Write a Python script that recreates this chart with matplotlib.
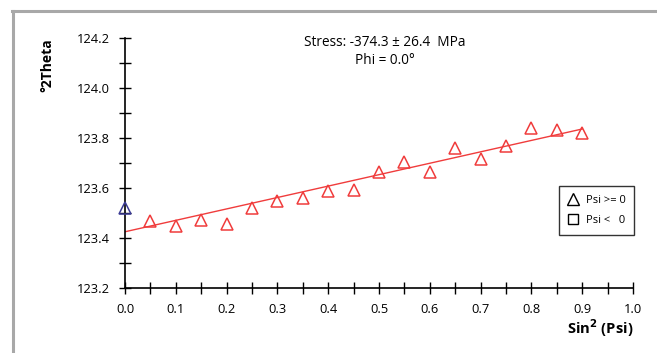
import matplotlib.pyplot as plt
from matplotlib.lines import Line2D
from matplotlib.ticker import MultipleLocator
import numpy as np

plt.rcParams['font.family'] = ['Open Sans', 'DejaVu Sans']

# Data
sin2psi = [0.05, 0.1, 0.15, 0.2, 0.25, 0.3, 0.35, 0.4, 0.45, 0.5,
           0.55, 0.6, 0.65, 0.7, 0.75, 0.8, 0.85, 0.9]
two_theta = [123.468, 123.448, 123.472, 123.456, 123.52, 123.548, 123.56,
             123.588, 123.592, 123.664, 123.704, 123.664, 123.76, 123.716,
             123.768, 123.84, 123.832, 123.82]
zero_x = [0.0]
zero_y = [123.52]
fit_x = [0.0, 0.9]
fit_y = [123.425, 123.836]

fig = plt.figure(figsize=(6.57, 3.53), dpi=100)
ax = fig.add_axes([0.1903, 0.1841, 0.7732, 0.7083])

# gray frame on top and left
fig.add_artist(Line2D([12/657, 1], [1-11/353, 1-11/353], color='#a8a8a8', lw=2.2, transform=fig.transFigure))
fig.add_artist(Line2D([13/657, 13/657], [0, 1-11/353], color='#a8a8a8', lw=2.2, transform=fig.transFigure))

red = '#f03c3c'
ax.plot(fit_x, fit_y, color=red, lw=1)
ax.plot(sin2psi, two_theta, linestyle='none', marker='^', ms=9, mfc='none', mec=red, mew=1.1)
ax.plot(zero_x, zero_y, linestyle='none', marker='^', ms=9, mfc='none', mec='#3c3c96', mew=1.1, clip_on=False, zorder=5)

ax.set_xlim(0, 1.0)
ax.set_ylim(123.2, 124.2)
ax.xaxis.set_major_locator(MultipleLocator(0.1))
ax.xaxis.set_minor_locator(MultipleLocator(0.05))
ax.yaxis.set_major_locator(MultipleLocator(0.2))
ax.yaxis.set_minor_locator(MultipleLocator(0.1))
ax.tick_params(which='both', direction='inout', length=8, width=1, labelsize=9.3)
ax.tick_params(axis='y', pad=7)
ax.tick_params(axis='x', pad=7)
ax.xaxis.set_major_formatter(plt.FuncFormatter(lambda v, p: f"{v:.1f}"))
ax.yaxis.set_major_formatter(plt.FuncFormatter(lambda v, p: f"{v:.1f}"))
for s in ['top', 'right']:
    ax.spines[s].set_visible(False)
for s in ['left', 'bottom']:
    ax.spines[s].set_linewidth(1.2)

fig.text(47/657, 1-65/353, '°2Theta', rotation=90, ha='center', va='center', fontsize=10, fontweight='bold')
fig.text(633/657, 1-328/353, 'Sin$^\\mathbf{2}$ (Psi)', ha='right', va='center', fontsize=10.6, fontweight='bold')

fig.text(385/657, 1-43/353, 'Stress: -374.3 ± 26.4  MPa', ha='center', va='center', fontsize=9.8)
fig.text(385/657, 1-60/353, 'Phi = 0.0°', ha='center', va='center', fontsize=9.8)

h1 = Line2D([], [], linestyle='none', marker='^', ms=9, mfc='none', mec='black', mew=1)
h2 = Line2D([], [], linestyle='none', marker='s', ms=7, mfc='none', mec='black', mew=1)
leg = ax.legend([h1, h2], ['Psi >= 0', 'Psi <   0'], loc='upper left', bbox_to_anchor=(0.854, 0.408),
                fontsize=8, frameon=True, fancybox=False, edgecolor='black', handlelength=1,
                handletextpad=0.6, borderpad=0.8, labelspacing=0.85, borderaxespad=0)
leg.get_frame().set_linewidth(1)

fig.savefig('out.png', dpi=100)
